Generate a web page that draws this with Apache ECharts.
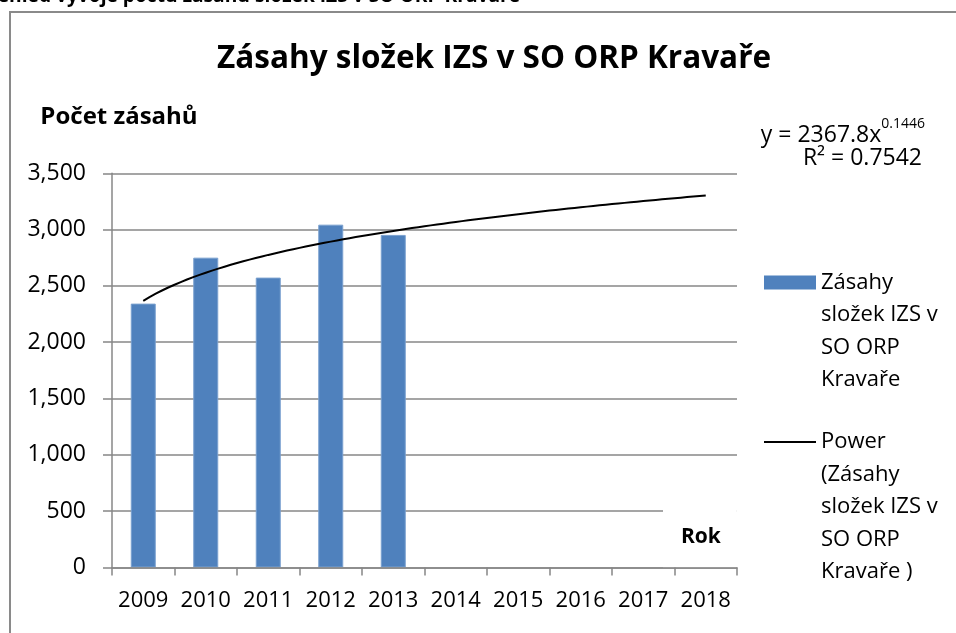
<!DOCTYPE html>
<html>
<head>
<meta charset="utf-8">
<script src="https://cdn.jsdelivr.net/npm/echarts@6/dist/echarts.min.js"></script>
<style>
  html, body { margin: 0; padding: 0; background: #fff; }
  #chart { width: 956px; height: 633px; }
</style>
</head>
<body>
<div id="chart"></div>
<script>
// Interventions of IZS units in SO ORP Kravaře by year
const years = ['2009', '2010', '2011', '2012', '2013', '2014', '2015', '2016', '2017', '2018'];
const interventions = [2343, 2751, 2574, 3044, 2953, null, null, null, null, null];
const yTicks = [0, 500, 1000, 1500, 2000, 2500, 3000, 3500];

// Power trendline as stated on the chart: y = a * x^b
const trendA = 2367.8;
const trendB = 0.1446;
const trendR2 = '0.7542';

const barName = 'Zásahy složek IZS v SO ORP Kravaře';
const trendName = 'Power (Zásahy složek IZS v SO ORP Kravaře )';

const FONT = '"Open Sans", "Noto Sans", sans-serif';
const LINE_H = 32.5;

// trend curve sampled along x = 1..10 (category positions)
const trendPoints = [];
for (let i = 0; i <= 90; i++) {
  const x = 1 + i / 10;
  trendPoints.push([x, trendA * Math.pow(x, trendB)]);
}

// legend text: first line sits level with the icon (blank lines above balance the block)
function legendLines(lines) {
  return '\n'.repeat(lines.length - 1) + lines.join('\n');
}
const barLines = ['Zásahy', 'složek IZS v', 'SO ORP', 'Kravaře'];
const trendLines = ['Power', '(Zásahy', 'složek IZS v', 'SO ORP', 'Kravaře )'];

const chart = echarts.init(document.getElementById('chart'), null, { renderer: 'canvas' });

const option = {
  animation: false,
  backgroundColor: '#fff',
  title: {
    text: 'Zásahy složek IZS v SO ORP Kravaře',
    left: 217,
    top: 43,
    padding: 0,
    textStyle: { fontFamily: FONT, fontWeight: 'bold', fontSize: 31.5, color: '#000' }
  },
  legend: [
    {
      orient: 'vertical',
      left: 764,
      top: 275.5 - (barLines.length - 1) * LINE_H - LINE_H / 2 + 7,
      padding: 0,
      itemWidth: 52,
      itemHeight: 14,
      itemStyle: { borderWidth: 0 },
      data: [{ name: barName, icon: 'rect' }],
      formatter: () => legendLines(barLines),
      textStyle: { fontFamily: FONT, fontSize: 22, color: '#000', lineHeight: LINE_H }
    },
    {
      orient: 'vertical',
      left: 764,
      top: 435 - (trendLines.length - 1) * LINE_H - LINE_H / 2 + 7,
      padding: 0,
      itemWidth: 52,
      itemHeight: 14,
      data: [{ name: trendName, icon: 'path://M0,0 H52 V2 H0 Z' }],
      formatter: () => legendLines(trendLines),
      textStyle: { fontFamily: FONT, fontSize: 22, color: '#000', lineHeight: LINE_H }
    }
  ],
  grid: { left: 112, right: 219, top: 173.3, bottom: 65.5, containLabel: false },
  xAxis: [
    {
      type: 'category',
      data: years,
      z: 5,
      boundaryGap: true,
      axisLine: { show: false },
      axisTick: { show: true, length: 8, interval: 0, lineStyle: { color: '#878787', width: 1.5 } },
      axisLabel: { interval: 0, margin: 22, fontFamily: FONT, fontSize: 22, color: '#000' },
      name: 'Rok',
      nameLocation: 'end',
      nameGap: -74,
      nameTextStyle: {
        fontFamily: FONT, fontSize: 21, fontWeight: 'bold', color: '#000',
        align: 'left', verticalAlign: 'bottom',
        backgroundColor: '#fff',
        lineHeight: 27,
        padding: [20, 16, 17, 18]
      }
    },
    {
      // carries the baseline drawn above the axis title box
      type: 'value',
      min: 0.5,
      max: 10.5,
      position: 'bottom',
      z: 6,
      axisLine: { show: true, onZero: false, lineStyle: { color: '#878787', width: 1.5 } },
      axisTick: { show: false },
      axisLabel: { show: false },
      splitLine: { show: false }
    }
  ],
  yAxis: {
    type: 'value',
    min: 0,
    max: 3500,
    interval: 500,
    axisLine: { show: true, lineStyle: { color: '#878787', width: 1.5 } },
    axisTick: { show: true, length: 9, lineStyle: { color: '#878787', width: 1.5 } },
    splitLine: { lineStyle: { color: '#878787', width: 1.5 } },
    axisLabel: {
      margin: 26,
      fontFamily: FONT, fontSize: 23, color: '#000',
      formatter: v => yTicks.includes(v) ? v.toLocaleString('en-US') : ''
    },
    name: 'Počet zásahů',
    nameLocation: 'end',
    nameGap: 44,
    nameTextStyle: {
      fontFamily: FONT, fontSize: 24, fontWeight: 'bold', color: '#000',
      align: 'center', verticalAlign: 'bottom',
      padding: [0, 0, 0, 14]
    }
  },
  series: [
    {
      name: barName,
      type: 'bar',
      data: interventions,
      barWidth: '40%',
      itemStyle: { color: '#4f81bd', borderColor: '#7aa0cf', borderWidth: 1 }
    },
    {
      name: trendName,
      type: 'line',
      xAxisIndex: 1,
      data: trendPoints,
      symbol: 'none',
      z: 3,
      itemStyle: { color: '#000' },
      lineStyle: { color: '#000', width: 2 }
    }
  ],
  graphic: [
    {
      type: 'rect',
      shape: { x: 10, y: 12, width: 1000, height: 700 },
      style: { fill: 'none', stroke: '#8a8a8a', lineWidth: 2 },
      silent: true,
      z: -1
    },
    {
      type: 'text',
      x: -23,
      y: -3,
      style: {
        text: 'Přehled vývoje počtu zásahů složek IZS v SO ORP Kravaře',
        fontFamily: FONT, fontSize: 19.2, fontWeight: 'bold', fill: '#000',
        verticalAlign: 'middle', align: 'left'
      }
    },
    {
      type: 'text',
      x: 925,
      y: 132,
      style: {
        text: '{b|y = ' + trendA + 'x}{s|' + trendB + '}',
        align: 'right', verticalAlign: 'middle',
        rich: {
          b: { fontFamily: FONT, fontSize: 23, fill: '#000', verticalAlign: 'bottom', lineHeight: 30 },
          s: { fontFamily: FONT, fontSize: 14, fill: '#000', verticalAlign: 'top', lineHeight: 30, padding: [0, 0, 12, 0] }
        }
      }
    },
    {
      type: 'text',
      x: 922,
      y: 158,
      style: {
        text: 'R² = ' + trendR2,
        fontFamily: FONT, fontSize: 23, fill: '#000',
        align: 'right', verticalAlign: 'middle'
      }
    }
  ]
};

chart.setOption(option);
</script>
</body>
</html>
